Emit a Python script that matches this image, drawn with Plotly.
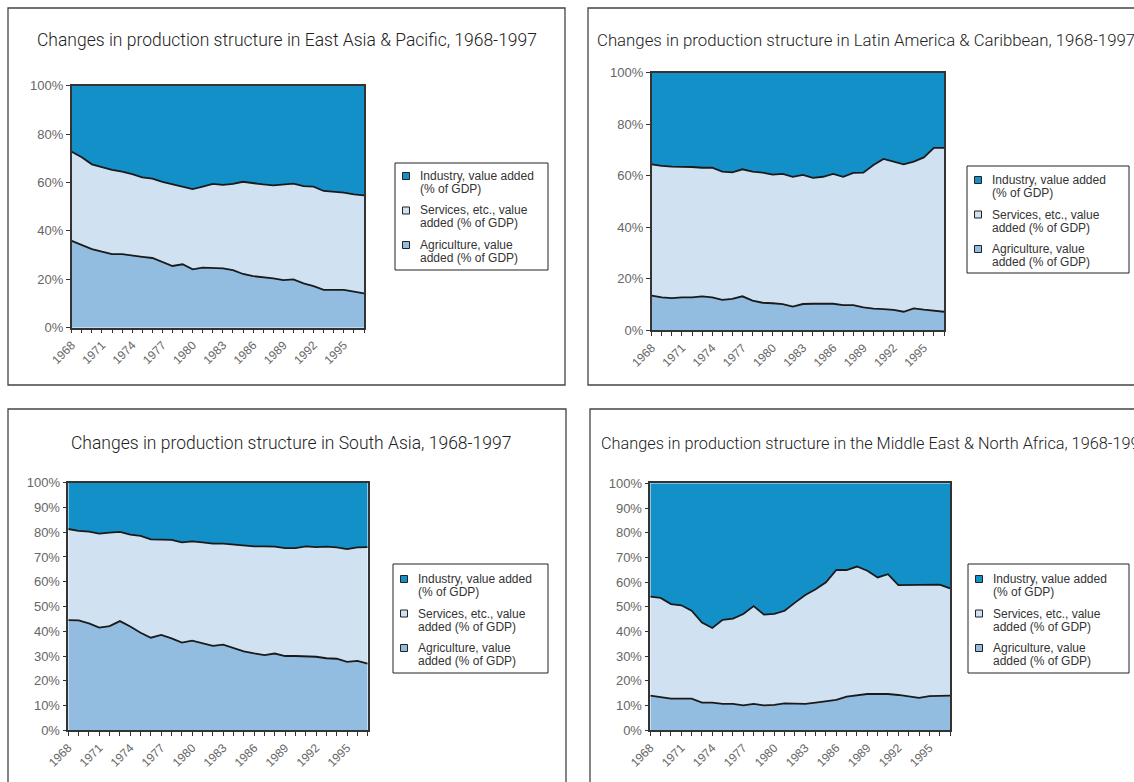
import plotly.graph_objects as go

W, H = 1134, 782
OFF = 0  # body margin removed by post_script below


def fx(px):
    return (px - OFF) / W


def fy(py):
    return 1 - (py - OFF) / H


years = list(range(1968, 1998))
label_years = [1968, 1971, 1974, 1977, 1980, 1983, 1986, 1989, 1992, 1995]

legend_lines = [["Industry, value added", "(% of GDP)"],
                ["Services, etc., value", "added (% of GDP)"],
                ["Agriculture, value", "added (% of GDP)"]]
series_names = ["Agriculture, value added (% of GDP)",
                "Services, etc., value added (% of GDP)",
                "Industry, value added (% of GDP)"]
colors = ["#93BDE0", "#D0E1F1", "#1490C9"]

# East Asia & Pacific
eap_agri = [35.9, 34.2, 32.5, 31.4, 30.4, 30.4, 30.0, 29.3, 28.8, 27.3, 25.5, 26.2, 24.1, 24.8, 24.8,
            24.5, 23.8, 22.2, 21.3, 20.9, 20.4, 19.7, 20.0, 18.3, 17.2, 15.6, 15.6, 15.6, 14.9, 14.2]
eap_serv = [36.8, 36.2, 35.0, 35.0, 34.8, 34.1, 33.5, 32.8, 32.8, 33.0, 33.7, 32.2, 33.2, 33.5, 34.6,
            34.5, 35.6, 38.1, 38.3, 38.3, 38.4, 39.4, 39.5, 40.2, 41.1, 40.9, 40.7, 40.2, 40.2, 40.5]
eap_ind = [27.3, 29.6, 32.5, 33.6, 34.8, 35.5, 36.5, 37.9, 38.4, 39.7, 40.8, 41.6, 42.7, 41.7, 40.6,
           41.0, 40.6, 39.7, 40.4, 40.8, 41.2, 40.9, 40.5, 41.5, 41.7, 43.5, 43.7, 44.2, 44.9, 45.3]

# Latin America & Caribbean
lac_agri = [13.5, 12.8, 12.5, 12.8, 12.8, 13.2, 12.8, 11.8, 12.2, 13.2, 11.5, 10.7, 10.5, 10.2, 9.2,
            10.2, 10.3, 10.3, 10.3, 9.8, 9.8, 8.9, 8.4, 8.2, 7.9, 7.2, 8.5, 8.0, 7.6, 7.2]
lac_serv = [50.9, 51.0, 51.0, 50.7, 50.6, 49.9, 50.3, 49.8, 49.1, 49.3, 50.1, 50.5, 49.9, 50.5, 50.4,
            50.1, 48.9, 49.3, 50.4, 49.8, 51.3, 52.3, 55.8, 58.3, 57.6, 57.2, 57.0, 59.1, 63.2, 63.6]
lac_ind = [35.6, 36.2, 36.5, 36.5, 36.6, 36.9, 36.9, 38.4, 38.7, 37.5, 38.4, 38.8, 39.6, 39.3, 40.4,
           39.7, 40.8, 40.4, 39.3, 40.4, 38.9, 38.8, 35.8, 33.5, 34.5, 35.6, 34.5, 32.9, 29.2, 29.2]

# South Asia
sas_agri = [44.5, 44.4, 43.2, 41.5, 42.1, 44.1, 41.9, 39.4, 37.4, 38.5, 37.1, 35.4, 36.2, 35.1, 34.1,
            34.6, 33.2, 31.9, 31.1, 30.4, 31.0, 30.0, 30.0, 30.0, 29.7, 29.1, 28.9, 27.6, 28.0, 26.9]
sas_serv = [36.8, 36.1, 37.0, 37.9, 37.7, 36.0, 37.1, 39.1, 39.7, 38.6, 39.8, 40.5, 40.1, 40.8, 41.3,
            40.8, 41.8, 42.7, 43.2, 43.9, 43.2, 43.6, 43.6, 44.3, 44.3, 45.1, 45.0, 45.6, 45.9, 47.1]
sas_ind = [18.7, 19.5, 19.8, 20.6, 20.2, 19.9, 21.0, 21.5, 22.9, 22.9, 23.1, 24.1, 23.7, 24.1, 24.6,
           24.6, 25.0, 25.4, 25.7, 25.7, 25.8, 26.4, 26.4, 25.7, 26.0, 25.8, 26.1, 26.8, 26.1, 26.0]

# Middle East & North Africa
mna_agri = [14.0, 13.4, 12.8, 12.8, 12.8, 11.2, 11.2, 10.7, 10.7, 10.1, 10.7, 10.1, 10.3, 10.9, 10.9,
            10.7, 11.2, 11.7, 12.3, 13.6, 14.3, 14.7, 14.7, 14.7, 14.3, 13.6, 13.1, 13.8, 13.8, 14.0]
mna_serv = [40.1, 40.2, 38.3, 37.8, 35.6, 32.4, 30.2, 34.0, 34.5, 37.0, 39.6, 36.7, 36.8, 37.5, 40.8,
            44.1, 45.9, 48.2, 52.6, 51.3, 52.0, 49.9, 47.2, 48.5, 44.5, 45.2, 45.6, 45.2, 45.2, 43.5]
mna_ind = [45.9, 46.4, 48.9, 49.4, 51.6, 56.4, 58.6, 55.3, 54.8, 52.9, 49.7, 53.2, 52.9, 51.6, 48.3,
           45.2, 42.9, 40.1, 35.1, 35.1, 33.7, 35.4, 38.1, 36.8, 41.2, 41.2, 41.3, 41.0, 41.0, 42.5]

titles = ["Changes in production structure in East Asia & Pacific, 1968-1997",
          "Changes in production structure in Latin America & Caribbean, 1968-1997",
          "Changes in production structure in South Asia, 1968-1997",
          "Changes in production structure in the Middle East & North Africa, 1968-1997"]

panels = [
    dict(data=[eap_agri, eap_serv, eap_ind], plot=(71.7, 364, 85.7, 327.7), ystep=20,
         box=(8, 565, 8, 385), title_xy=(287, 40, "center"), title_size=17.5,
         legend=(395, 548, 163, 270), leg_y0=176),
    dict(data=[lac_agri, lac_serv, lac_ind], plot=(651.7, 944, 72.7, 330.3), ystep=20,
         box=(588, 1150, 8, 385), title_xy=(595, 40, "left"), title_size=16.8,
         legend=(967, 1129, 166, 273), leg_y0=180),
    dict(data=[sas_agri, sas_serv, sas_ind], plot=(68.3, 367.7, 482.7, 730.3), ystep=10,
         box=(8, 566, 409, 800), title_xy=(291, 443, "center"), title_size=17.5,
         legend=(393, 548, 564, 673), leg_y0=579),
    dict(data=[mna_agri, mna_serv, mna_ind], plot=(650.3, 950, 483.3, 730.3), ystep=10,
         box=(590, 1150, 409, 800), title_xy=(599, 443, "left"), title_size=16.3,
         legend=(968, 1129, 564, 673), leg_y0=579),
]

TITLE_FONT = "Roboto"
TICK_FONT = "Liberation Sans, Arial, sans-serif"
ENTRY_GAP = 34.5
LINE_GAP = 13

fig = go.Figure()
layout = dict(width=W, height=H, margin=dict(l=0, r=0, t=0, b=0, autoexpand=False),
              paper_bgcolor="white", plot_bgcolor="white", showlegend=False)
shapes, annotations = [], []

for k, p in enumerate(panels):
    sfx = "" if k == 0 else str(k + 1)
    xa, ya = "x" + sfx, "y" + sfx
    x0, x1, y0, y1 = p["plot"]
    for j in range(3):
        fig.add_trace(go.Scatter(
            x=years, y=p["data"][j], xaxis=xa, yaxis=ya, mode="lines",
            stackgroup="s" + str(k), name=series_names[j],
            line=dict(color="#1a1a1a", width=0 if j == 2 else 1.8), fillcolor=colors[j],
            hoverinfo="skip"))
    layout["xaxis" + sfx] = dict(
        domain=[fx(x0), fx(x1)], anchor=ya, range=[1968, 1997],
        tickmode="array", tickvals=years,
        ticktext=[str(y) if y in label_years else "" for y in years],
        tickangle=-45, ticks="outside", ticklen=4, tickwidth=1, tickcolor="#333",
        showline=True, linecolor="#333", linewidth=1.5, mirror=True,
        showgrid=False, zeroline=False,
        tickfont=dict(family=TICK_FONT, size=12, color="#666"))
    layout["yaxis" + sfx] = dict(
        domain=[fy(y1), fy(y0)], anchor=xa, range=[0, 100],
        tickmode="array", tickvals=list(range(0, 101, p["ystep"])),
        ticktext=["%d%%" % v for v in range(0, 101, p["ystep"])],
        ticks="outside", ticklen=4, tickwidth=1, tickcolor="#333",
        showline=True, linecolor="#333", linewidth=1.5, mirror=True,
        showgrid=False, zeroline=False,
        tickfont=dict(family=TICK_FONT, size=13, color="#666"))

    # panel frame
    bx0, bx1, by0, by1 = p["box"]
    shapes.append(dict(type="rect", xref="paper", yref="paper",
                       x0=fx(bx0), x1=fx(bx1), y0=fy(by1), y1=fy(by0),
                       line=dict(color="#444", width=1.3), fillcolor="rgba(0,0,0,0)",
                       layer="below"))
    # title
    tx, ty, anc = p["title_xy"]
    annotations.append(dict(text=titles[k], xref="paper", yref="paper",
                            x=fx(tx), y=fy(ty), xanchor=anc, yanchor="middle",
                            showarrow=False,
                            font=dict(family=TITLE_FONT, size=p["title_size"],
                                      color="#222", weight=300)))
    # legend (frame, swatches, text)
    lx0, lx1, ly0, ly1 = p["legend"]
    shapes.append(dict(type="rect", xref="paper", yref="paper",
                       x0=fx(lx0), x1=fx(lx1), y0=fy(ly1), y1=fy(ly0),
                       line=dict(color="#222", width=1), fillcolor="white"))
    for e, j in enumerate([2, 1, 0]):
        cy = p["leg_y0"] + e * ENTRY_GAP
        sx = lx0 + 11
        shapes.append(dict(type="rect", xref="paper", yref="paper",
                           x0=fx(sx - 3.5), x1=fx(sx + 3.5), y0=fy(cy + 3.5), y1=fy(cy - 3.5),
                           line=dict(color="#222", width=1), fillcolor=colors[j]))
        for li, txt in enumerate(legend_lines[e]):
            annotations.append(dict(text=txt, xref="paper", yref="paper",
                                    x=fx(lx0 + 23), y=fy(cy + li * LINE_GAP),
                                    xanchor="left", yanchor="middle", showarrow=False,
                                    font=dict(family=TICK_FONT, size=12, color="#333")))

layout["shapes"] = shapes
layout["annotations"] = annotations
fig.update_layout(**layout)
fig.write_html("out.html", config={"displayModeBar": False},
               post_script="document.body.style.margin='0';document.body.style.overflow='hidden';")
